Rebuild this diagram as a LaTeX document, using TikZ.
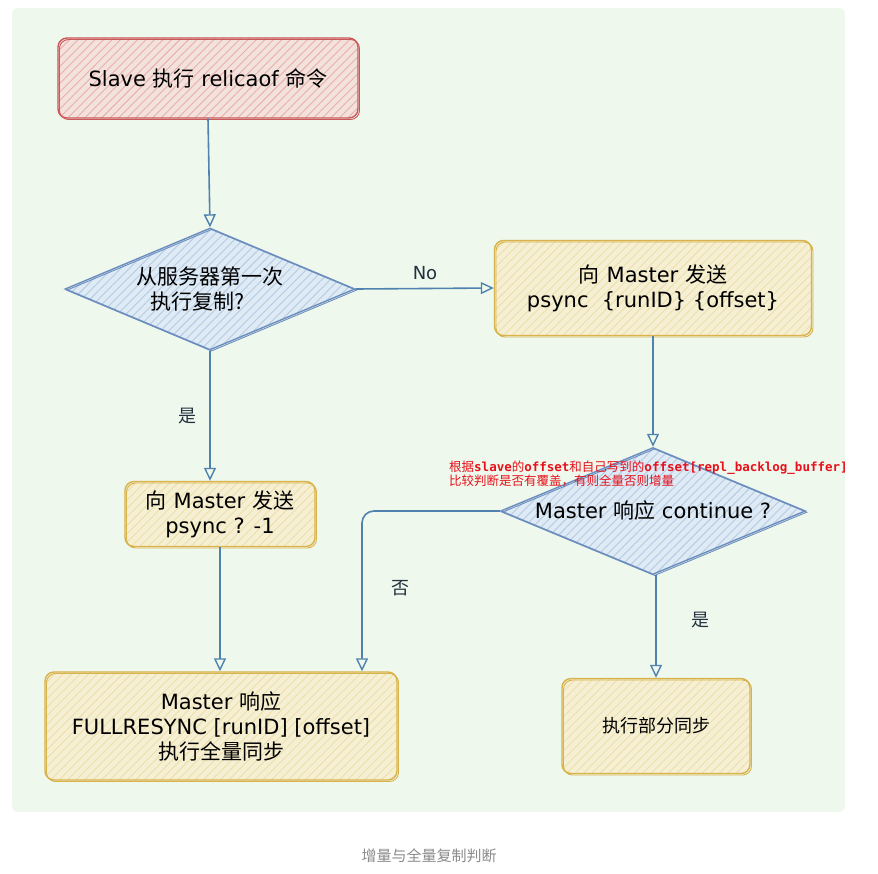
\documentclass[tikz,border=0pt]{standalone}
\usepackage{fontspec}
\setmainfont{DejaVu Sans}
\newfontfamily\cjk{Noto Sans CJK SC}
\newfontfamily\monob{DejaVu Sans Mono}[BoldFont={DejaVu Sans Mono Bold}]
\newcommand{\zh}[1]{{\cjk\fontsize{21}{25}\selectfont #1}}
\usetikzlibrary{shapes.geometric,arrows.meta,patterns.meta,positioning}
\definecolor{bgc}{HTML}{EFF8EC}
\definecolor{redb}{HTML}{C9595A}
\definecolor{redf}{HTML}{F6D3D0}
\definecolor{yelb}{HTML}{D8B24A}
\definecolor{yelf}{HTML}{F8EDC8}
\definecolor{blub}{HTML}{6C8EBF}
\definecolor{bluf}{HTML}{D6E4F7}
\definecolor{arr}{HTML}{4F82AE}
\definecolor{lab}{HTML}{22303F}
\definecolor{annot}{HTML}{E8101A}
\definecolor{capt}{HTML}{8A8A8A}
\tikzset{
  txt/.style={font=\fontsize{21}{25}\selectfont, align=center, text=black},
  sbox/.style={rectangle, rounded corners=9pt, txt, line width=1.4pt, inner sep=0pt},
  redbox/.style={sbox, draw=redb, preaction={fill=bgc!40!redf},
    pattern={Lines[angle=45,distance=6pt,line width=0.9pt]}, pattern color=redf!70!redb,
    postaction={draw=redb, line width=0.9pt, transform canvas={shift={(1.5pt,-1.5pt)}}}},
  yelbox/.style={sbox, draw=yelb, preaction={fill=bgc!30!yelf},
    pattern={Lines[angle=45,distance=6pt,line width=0.9pt]}, pattern color=yelf!75!yelb,
    postaction={draw=yelb, line width=0.9pt, transform canvas={shift={(1.5pt,-1.5pt)}}}},
  dia/.style={diamond, aspect=2.4, inner sep=0pt, txt, draw=blub, line width=1.4pt,
    preaction={fill=bgc!30!bluf},
    pattern={Lines[angle=45,distance=6pt,line width=0.9pt]}, pattern color=bluf!70!blub,
    postaction={draw=blub, line width=0.9pt, transform canvas={shift={(1.5pt,-1.2pt)}}}},
  conn/.style={draw=arr, line width=1.6pt, -{Triangle[open,length=13pt,width=12pt,line width=1.4pt]}},
  elab/.style={font=\fontsize{18}{22}\selectfont, text=lab}
}
\begin{document}
\begin{tikzpicture}[x=1pt,y=-1pt]
\useasboundingbox (0,0) rectangle (878,873);
\fill[bgc, rounded corners=6pt] (12,8) rectangle (845,812);

\node[redbox, minimum width=300pt, minimum height=80pt] (s) at (208,78) {Slave \zh{执行} relicaof \zh{命令}};
\node[dia, minimum width=290pt, minimum height=122pt] (d1) at (210,289) {\zh{从服务器第一次}\\\zh{执行复制?}\hspace*{1.2em}};
\node[yelbox, minimum width=317pt, minimum height=95pt] (r) at (653,288) {\zh{向} Master \zh{发送}\\psync\ \ \{runID\} \{offset\}};
\node[dia, minimum width=305pt, minimum height=127pt] (d2) at (653,511) {Master \zh{响应} continue ?};
\node[yelbox, minimum width=190pt, minimum height=65pt] (p) at (220,514) {\zh{向} Master \zh{发送}\\psync ? -1};
\node[yelbox, minimum width=352pt, minimum height=108pt] (f) at (221,726) {Master \zh{响应}\\FULLRESYNC [runID] [offset]\\\zh{执行全量同步}};
\node[yelbox, minimum width=188pt, minimum height=95pt] (q) at (656,726) {{\cjk\fontsize{18}{22}\selectfont 执行部分同步}};

\node[anchor=north west, inner sep=0pt, align=left, text=annot, font=\fontsize{12.5}{14}\selectfont] (a) at (449,461)
 {{\cjk 根据}{\monob\bfseries slave}{\cjk 的}{\monob\bfseries offset}{\cjk 和自己写到的}{\monob\bfseries offset[repl\_backlog\_buffer]}\\
  {\cjk 比较判断是否有覆盖，有则全量否则增量}};

\draw[conn] (s.south) -- (d1.north);
\draw[conn] (d1.east) -- (r.west);
\draw[conn] (r.south) -- (d2.north);
\draw[conn] (d1.south) -- (d1.south |- p.north);
\draw[conn] (p.south) -- (p.south |- f.north);
\coordinate (k) at (362,511);
\draw[conn, rounded corners=12pt] (d2.west) -- (k) -- (k |- f.north);
\draw[conn] (d2.south -| q.north) -- (q.north);

\node[elab] (l1) at (425,273) {No};
\node[elab, font=\cjk\fontsize{18}{22}\selectfont] (l2) at (187,416) {是};
\node[elab, font=\cjk\fontsize{18}{22}\selectfont] (l3) at (400,588) {否};
\node[elab, font=\cjk\fontsize{18}{22}\selectfont] (l4) at (700,620) {是};

\node[text=capt, font=\cjk\fontsize{15}{18}\selectfont] (c) at (429,856) {增量与全量复制判断};
\end{tikzpicture}
\end{document}
